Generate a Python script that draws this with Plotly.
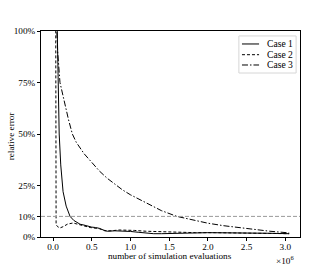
import plotly.graph_objects as go

# x in units of 1e6 simulation evaluations, y as fraction (relative error)
case1_x = [0.05, 0.055, 0.065, 0.08, 0.1, 0.13, 0.17, 0.22, 0.27, 0.3, 0.35, 0.4, 0.45, 0.5,
           0.55, 0.6, 0.65, 0.7, 0.8, 0.9, 1.0, 1.1, 1.2, 1.3, 1.4, 1.5, 1.7, 2.0, 2.3, 2.5, 2.8, 3.05]
case1_y = [1.10, 1.00, 0.75, 0.50, 0.35, 0.22, 0.15, 0.10, 0.08, 0.072, 0.062, 0.058, 0.052, 0.048,
           0.046, 0.042, 0.034, 0.028, 0.030, 0.030, 0.027, 0.023, 0.018, 0.016, 0.016, 0.017, 0.02, 0.021, 0.02, 0.02, 0.018, 0.016]

case2_x = [0.035, 0.036, 0.04, 0.06, 0.09, 0.13, 0.19, 0.26, 0.3, 0.35, 0.4, 0.48, 0.55, 0.6,
           0.67, 0.75, 0.85, 0.95, 1.05, 1.2, 1.4, 1.6, 1.84, 2.1, 2.4, 2.7, 3.05]
case2_y = [1.10, 0.50, 0.06, 0.05, 0.044, 0.05, 0.063, 0.068, 0.065, 0.058, 0.054, 0.046, 0.044, 0.04,
           0.03, 0.03, 0.034, 0.034, 0.032, 0.028, 0.025, 0.024, 0.021, 0.021, 0.02, 0.018, 0.016]

case3_x = [0.045, 0.06, 0.09, 0.12, 0.155, 0.2, 0.25, 0.3, 0.4, 0.5, 0.6, 0.7, 0.8, 0.9, 1.0,
           1.2, 1.4, 1.6, 1.8, 2.0, 2.2, 2.4, 2.6, 2.8, 3.05]
case3_y = [1.05, 0.90, 0.75, 0.70, 0.645, 0.57, 0.50, 0.46, 0.405, 0.36, 0.32, 0.285, 0.255, 0.228, 0.205,
           0.165, 0.128, 0.10, 0.082, 0.067, 0.055, 0.045, 0.036, 0.028, 0.02]

ref_level = 0.10

x_ticks = [0.0, 0.5, 1.0, 1.5, 2.0, 2.5, 3.0]
x_tick_labels = ["0.0", "0.5", "1.0", "1.5", "2.0", "2.5", "3.0"]
y_ticks = [0.0, 0.10, 0.25, 0.50, 0.75, 1.00]
y_tick_labels = ["0%", "10%", "25%", "50%", "75%", "100%"]

series_names = ["Case 1", "Case 2", "Case 3"]
series_dash = ["solid", "3px,2px", "6px,2px,1.5px,2px"]

FONT = "Liberation Serif"
FS = 9.2

fig = go.Figure()
for name, xs, ys, dash in zip(series_names, [case1_x, case2_x, case3_x],
                              [case1_y, case2_y, case3_y], series_dash):
    fig.add_trace(go.Scatter(x=xs, y=ys, mode="lines", name=name,
                             line=dict(color="black", width=1, dash=dash)))

fig.add_shape(type="line", xref="paper", yref="y", x0=0, x1=1, y0=ref_level, y1=ref_level,
              line=dict(color="#9a9a9a", width=1, dash="4px,2px"), layer="above")

# manual legend (matplotlib style)
fig.add_shape(type="rect", xref="paper", yref="paper", x0=0.764, x1=0.985, y0=0.796, y1=0.976,
              line=dict(color="#d6d6d6", width=1), fillcolor="white", layer="above")
legend_rows = [0.937, 0.885, 0.835]
for name, dash, yr in zip(series_names, series_dash, legend_rows):
    fig.add_shape(type="line", xref="paper", yref="paper", x0=0.776, x1=0.842, y0=yr, y1=yr,
                  line=dict(color="black", width=1, dash=dash), layer="above")
    fig.add_annotation(text=name, xref="paper", yref="paper", x=0.866, y=yr,
                       xanchor="left", yanchor="middle", showarrow=False,
                       font=dict(family=FONT, size=9.6, color="black"))

fig.update_layout(
    width=333, height=267,
    margin=dict(l=41, r=33, t=31, b=30),
    paper_bgcolor="white", plot_bgcolor="white",
    font=dict(family=FONT, size=FS, color="black"),
    showlegend=False,
    xaxis=dict(range=[-0.155, 3.19], tickvals=x_ticks, ticktext=x_tick_labels,
               showgrid=False, zeroline=False, showline=True, mirror=True,
               linecolor="black", linewidth=1, ticks="outside", ticklen=3,
               ticklabelstandoff=-2,
               tickcolor="black", tickfont=dict(family=FONT, size=FS, color="black")),
    yaxis=dict(range=[0, 1.0], tickvals=y_ticks, ticktext=y_tick_labels,
               showgrid=False, zeroline=False, showline=True, mirror=True,
               linecolor="black", linewidth=1, ticks="outside", ticklen=3,
               tickcolor="black", tickfont=dict(family=FONT, size=FS, color="black")),
)

fig.add_annotation(text="number of simulation evaluations", xref="paper", yref="paper",
                   x=0.498, y=-0.092, xanchor="center", yanchor="middle", showarrow=False,
                   font=dict(family=FONT, size=FS, color="black"))
fig.add_annotation(text="relative error", xref="paper", yref="paper",
                   x=-0.115, y=0.49, xanchor="center", yanchor="middle", showarrow=False,
                   textangle=-90, font=dict(family=FONT, size=FS, color="black"))
fig.add_annotation(text="×10<sup>6</sup>", xref="paper", yref="paper", x=0.985, y=-0.113,
                   xanchor="right", yanchor="middle", showarrow=False,
                   font=dict(family=FONT, size=FS, color="black"))

fig.write_html("out.html", config={"displayModeBar": False},
               post_script="document.body.style.margin='0';document.body.style.padding='0';")
